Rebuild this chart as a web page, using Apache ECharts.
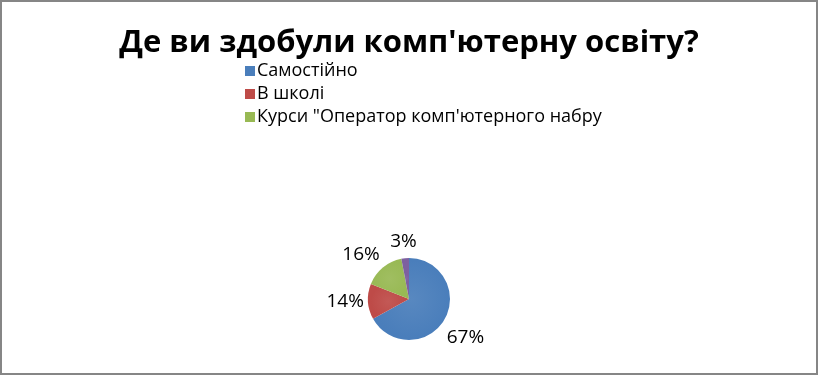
<!DOCTYPE html>
<html><head><meta charset="utf-8">
<script src="https://cdn.jsdelivr.net/npm/echarts@6/dist/echarts.min.js"></script>
<style>html,body{margin:0;padding:0;background:#fff}#c{width:818px;height:375px}</style>
</head><body><div id="c"></div>
<script>
const titleText = "Де ви здобули комп'ютерну освіту?";
const categories = ["Самостійно", "В школі", "Курси \"Оператор комп'ютерного набру", "Інше"];
const values = [67, 14, 16, 3];
const legendNames = categories.slice(0, 3);
const colors = ["#4A7EBB", "#BE4B48", "#98B954", "#7D60A0"];
const labelOffsets = [[-3, 3], [5, -2], [-4, 9], [1, 11]];

function grad(c) {
  return {type: 'radial', x: 0.5, y: 0.5, r: 0.5, colorStops: [{offset: 0, color: echarts.color.lift(c, 0.08)}, {offset: 1, color: c}]};
}

const chart = echarts.init(document.getElementById('c'));
chart.setOption({
  animation: false,
  graphic: [{type: 'rect', shape: {x: 1, y: 1, width: 816, height: 373}, style: {fill: 'none', stroke: '#868686', lineWidth: 2}}],
  title: {text: titleText, left: 'center', top: 23, textStyle: {fontFamily: 'Open Sans', fontWeight: 'bold', fontSize: 31, color: '#000'}},
  legend: {
    orient: 'vertical', left: 240, top: 57, itemWidth: 10, itemHeight: 10, itemGap: 5, icon: 'rect',
    data: legendNames.map((n, i) => ({name: n, itemStyle: {color: colors[i]}})),
    textStyle: {fontFamily: 'Open Sans', fontSize: 18, lineHeight: 18, color: '#000', padding: [0, 0, 0, -3]}
  },
  series: [{
    type: 'pie', center: [409, 299], radius: 41, startAngle: 90, clockwise: true,
    data: categories.map((n, i) => ({name: n, value: values[i], itemStyle: {color: grad(colors[i])}})),
    label: {show: false},
    labelLine: {show: false},
    itemStyle: {borderWidth: 0}
  }, {
    type: 'pie', center: [409, 299], radius: [62, 70], startAngle: 90, clockwise: true,
    silent: true,
    data: categories.map((n, i) => ({name: n, value: values[i], itemStyle: {color: 'rgba(0,0,0,0)'}, label: {offset: labelOffsets[i]}})),
    label: {show: true, position: 'inside', formatter: p => Math.round(p.percent) + '%', fontFamily: 'Open Sans', fontSize: 19, color: '#000'},
    labelLine: {show: false},
    emphasis: {disabled: true}
  }]
});
</script></body></html>
